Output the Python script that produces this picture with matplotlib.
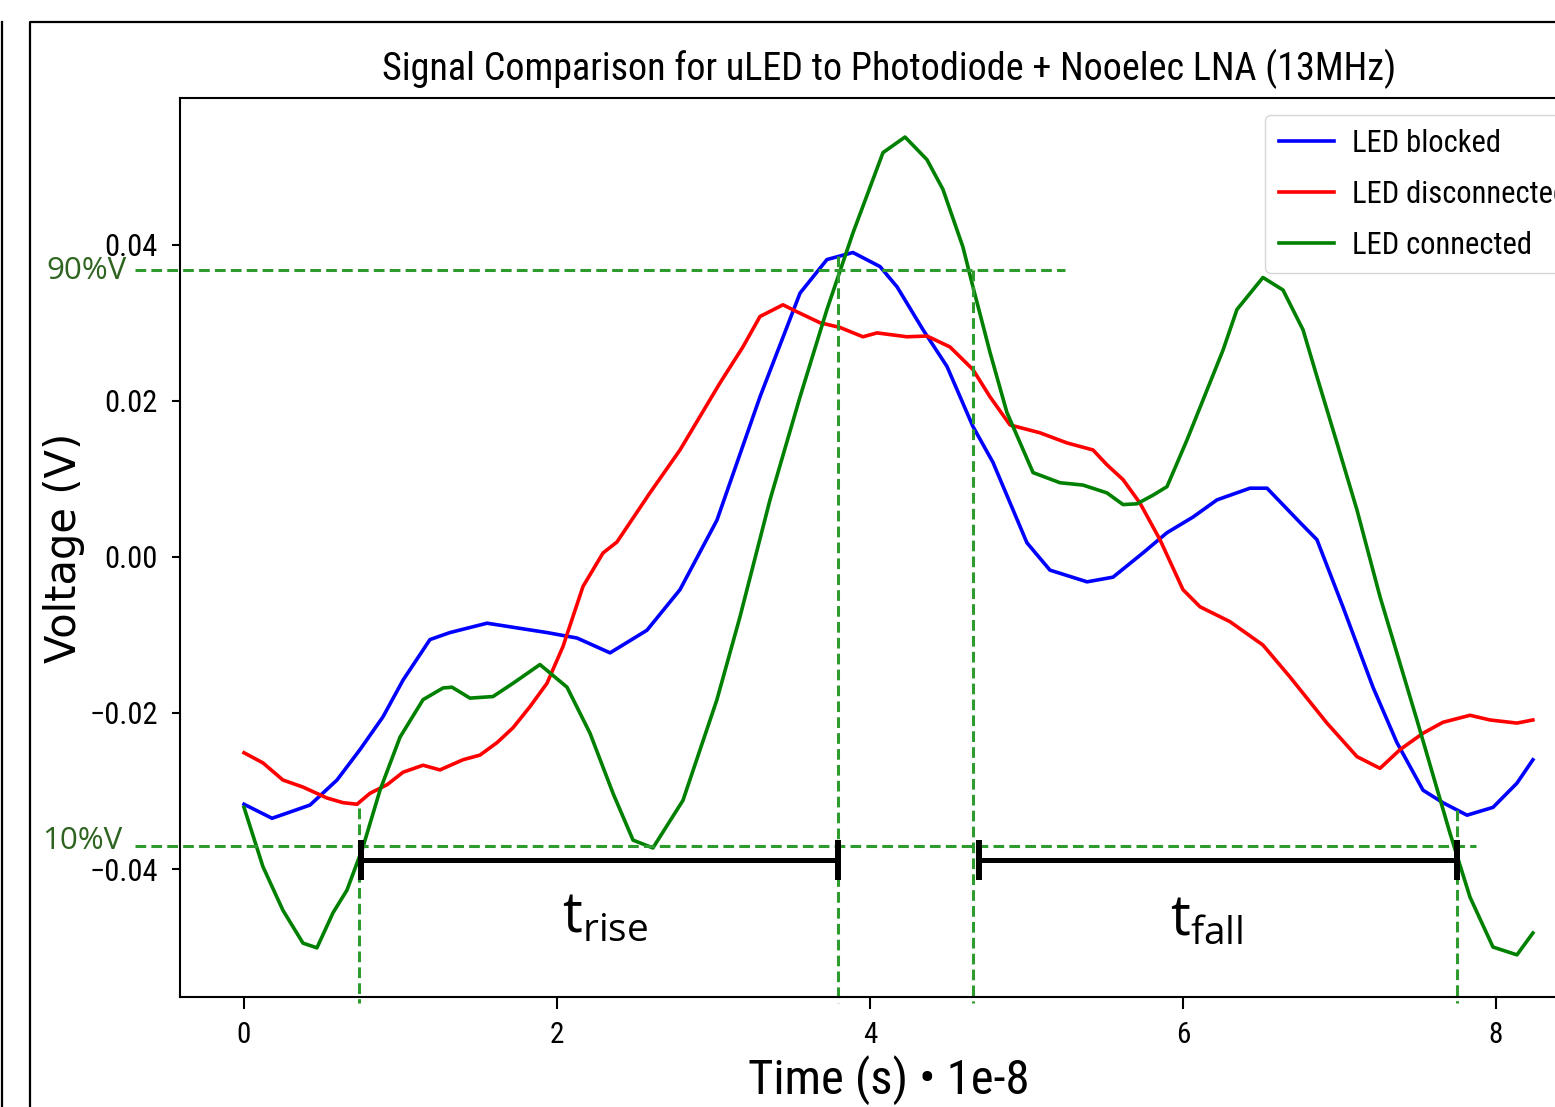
import matplotlib
matplotlib.use("Agg")
import matplotlib.pyplot as plt
from matplotlib import font_manager as fm
from matplotlib.font_manager import FontProperties
from matplotlib.lines import Line2D
from matplotlib.transforms import blended_transform_factory

# ---------------- data (time in units of 1e-8 s, voltage in V) ----------------
t_blocked = [0.000, 0.179, 0.294, 0.422, 0.594, 0.741, 0.888, 1.016, 1.188, 1.316,
             1.553, 1.744, 1.936, 2.128, 2.339, 2.575, 2.786, 3.022, 3.297, 3.553,
             3.725, 3.891, 4.064, 4.173, 4.339, 4.492, 4.658, 4.786, 5.003, 5.150,
             5.387, 5.553, 5.744, 5.898, 6.064, 6.217, 6.428, 6.537, 6.748, 6.856,
             7.022, 7.214, 7.367, 7.534, 7.661, 7.815, 7.981, 8.134, 8.236]
v_blocked = [-0.0317, -0.0335, -0.0327, -0.0318, -0.0286, -0.0247, -0.0205, -0.0158, -0.0106, -0.0097,
             -0.0085, -0.0091, -0.0097, -0.0104, -0.0123, -0.0094, -0.0042, 0.0047, 0.0205, 0.0338,
             0.0381, 0.0390, 0.0372, 0.0346, 0.0291, 0.0244, 0.0167, 0.0121, 0.0018, -0.0017,
             -0.0032, -0.0026, 0.0005, 0.0031, 0.0051, 0.0073, 0.0088, 0.0088, 0.0044, 0.0022,
             -0.0064, -0.0167, -0.0238, -0.0299, -0.0315, -0.0331, -0.0321, -0.0290, -0.0260]

t_disconnected = [0.000, 0.121, 0.249, 0.377, 0.530, 0.633, 0.722, 0.805, 0.914, 1.016,
                  1.144, 1.252, 1.399, 1.508, 1.617, 1.719, 1.827, 1.936, 2.038, 2.166,
                  2.294, 2.383, 2.594, 2.786, 3.042, 3.188, 3.297, 3.444, 3.534, 3.681,
                  3.808, 3.955, 4.045, 4.236, 4.364, 4.511, 4.658, 4.767, 4.895, 5.086,
                  5.259, 5.425, 5.514, 5.617, 5.725, 5.853, 6.000, 6.109, 6.300, 6.511,
                  6.684, 6.920, 7.112, 7.259, 7.387, 7.534, 7.661, 7.834, 7.962, 8.134, 8.236]
v_disconnected = [-0.0251, -0.0264, -0.0286, -0.0295, -0.0309, -0.0315, -0.0317, -0.0303, -0.0292, -0.0276,
                  -0.0267, -0.0273, -0.0260, -0.0254, -0.0238, -0.0219, -0.0192, -0.0162, -0.0115, -0.0038,
                  0.0005, 0.0019, 0.0082, 0.0137, 0.0223, 0.0269, 0.0308, 0.0323, 0.0314, 0.0300,
                  0.0294, 0.0282, 0.0287, 0.0282, 0.0283, 0.0269, 0.0240, 0.0205, 0.0169, 0.0159,
                  0.0146, 0.0137, 0.0118, 0.0099, 0.0069, 0.0022, -0.0042, -0.0064, -0.0083, -0.0113,
                  -0.0154, -0.0213, -0.0256, -0.0271, -0.0247, -0.0226, -0.0212, -0.0203, -0.0209, -0.0213, -0.0209]

t_connected = [0.000, 0.121, 0.249, 0.377, 0.466, 0.569, 0.658, 0.760, 0.869, 0.997,
               1.144, 1.272, 1.329, 1.444, 1.591, 1.719, 1.891, 2.064, 2.211, 2.358,
               2.486, 2.613, 2.805, 3.022, 3.169, 3.361, 3.553, 3.725, 3.891, 4.083,
               4.224, 4.364, 4.466, 4.594, 4.658, 4.767, 4.875, 5.042, 5.214, 5.361,
               5.514, 5.617, 5.706, 5.808, 5.898, 6.026, 6.256, 6.345, 6.511, 6.639,
               6.767, 6.856, 6.984, 7.112, 7.259, 7.495, 7.706, 7.834, 7.981, 8.134, 8.236]
v_connected = [-0.0321, -0.0397, -0.0453, -0.0495, -0.0501, -0.0456, -0.0427, -0.0372, -0.0299, -0.0231,
               -0.0183, -0.0168, -0.0167, -0.0181, -0.0179, -0.0162, -0.0138, -0.0167, -0.0226, -0.0303,
               -0.0363, -0.0373, -0.0312, -0.0183, -0.0077, 0.0073, 0.0205, 0.0317, 0.0415, 0.0518,
               0.0538, 0.0509, 0.0471, 0.0397, 0.0346, 0.0262, 0.0185, 0.0108, 0.0095, 0.0092,
               0.0082, 0.0067, 0.0068, 0.0079, 0.0090, 0.0150, 0.0265, 0.0317, 0.0358, 0.0342,
               0.0291, 0.0231, 0.0146, 0.0060, -0.0051, -0.0209, -0.0354, -0.0436, -0.0500, -0.0510, -0.0482]

series_labels = ["LED blocked", "LED disconnected", "LED connected"]
x_ticks = [0, 2, 4, 6, 8]
y_ticks = [-0.04, -0.02, 0.00, 0.02, 0.04]
title_text = "Signal Comparison for uLED to Photodiode + Nooelec LNA (13MHz)"

# annotation values (same units as the data)
level_90 = 0.0368
level_10 = -0.0371
t_rise_start, t_rise_end = 0.748, 3.796
t_fall_start, t_fall_end = 4.696, 7.751
vline_t = [0.735, 3.796, 4.658, 7.751]
vline_top = [-0.0322, 0.0385, 0.0368, -0.0324]

# ---------------- fonts: look for a narrow face ----------------
preferred = ["liberationsansnarrow-regular", "robotocondensed-regular", "notosans-condensed.",
             "notosans-condensed-regular", "dejavusanscondensed.ttf", "notosans-semicondensed."]
narrow_path = None
files = [f.fname for f in fm.fontManager.ttflist]
for key in preferred:
    for fn in files:
        if key in fn.lower().replace("_", "-").split("/")[-1]:
            narrow_path = fn
            break
    if narrow_path:
        break


def nprop(size):
    if narrow_path:
        return FontProperties(fname=narrow_path, size=size)
    return FontProperties(family="DejaVu Sans", size=size)


names = {f.name for f in fm.fontManager.ttflist}
office = "Open Sans" if "Open Sans" in names else "DejaVu Sans"

W, H = 1555, 1107
fig = plt.figure(figsize=(W / 100, H / 100), dpi=100)
fig.patch.set_facecolor("white")
renderer = fig.canvas.get_renderer()

# scale factor so the title keeps the reference width (1017 px) if the face is too wide
probe = fig.text(0, 0, title_text, fontproperties=nprop(27.5))
wpx = probe.get_window_extent(renderer).width
probe.remove()
k = min(1.0, 1017.0 / wpx)

ax = fig.add_axes([180 / W, (H - 997) / H, (1598 - 180) / W, (997 - 98) / H])
ax.plot(t_blocked, v_blocked, color="blue", lw=2.6, label=series_labels[0])
ax.plot(t_disconnected, v_disconnected, color="red", lw=2.6, label=series_labels[1])
ax.plot(t_connected, v_connected, color="green", lw=2.6, label=series_labels[2])

ax.set_xlim(-0.409, 8.652)
ax.set_ylim(-0.0564, 0.0588)
ax.set_xticks(x_ticks)
ax.set_yticks(y_ticks)
for s in ax.spines.values():
    s.set_linewidth(1.5)
ax.tick_params(axis="x", length=8.5, width=1.5, pad=9)
ax.tick_params(axis="y", length=6, width=1.5, pad=10)
for lab in ax.get_xticklabels():
    lab.set_fontproperties(nprop(21 * k))
for lab in ax.get_yticklabels():
    lab.set_fontproperties(nprop(22 * k))

ax.set_title(title_text, fontproperties=nprop(27.5 * k), pad=13)
ax.set_xlabel("Time (s) \u2022 1e-8", fontproperties=nprop(35 * k), labelpad=4)
ax.set_ylabel("Voltage (V)", family="DejaVu Sans", fontsize=30, labelpad=3)

leg = ax.legend(loc="upper left", bbox_to_anchor=(1265 / W, 1 - 115 / H),
                bbox_transform=fig.transFigure, prop=nprop(22 * k),
                handlelength=1.8, handletextpad=0.6, borderpad=0.45, borderaxespad=0,
                labelspacing=0.72)

# ---------------- annotations ----------------
dash_col = "#2e9b2e"
dash = (0, (3.5, 1.7))
ax.plot([-0.696, 5.246], [level_90, level_90], color=dash_col, lw=2.2, ls=dash, clip_on=False)
ax.plot([-0.696, 7.872], [level_10, level_10], color=dash_col, lw=2.2, ls=dash, clip_on=False)
for tv, top in zip(vline_t, vline_top):
    ax.plot([tv, tv], [top, -0.0572], color=dash_col, lw=2.2, ls=dash, clip_on=False)

bar_y = -0.03885
cap_lo, cap_hi = -0.04141, -0.03628
for a, b in [(t_rise_start, t_rise_end), (t_fall_start, t_fall_end)]:
    ax.plot([a, b], [bar_y, bar_y], color="black", lw=3.6, solid_capstyle="butt", clip_on=False)
    for e in (a, b):
        ax.plot([e, e], [cap_lo, cap_hi], color="black", lw=4.3, solid_capstyle="butt", clip_on=False)

ax.text(2.31, -0.0462, r"$\mathregular{t_{rise}}$", ha="center", va="center",
        fontsize=40, family=office, color="black")
ax.text(6.15, -0.0466, r"$\mathregular{t_{fall}}$", ha="center", va="center",
        fontsize=40, family=office, color="black")

tr = blended_transform_factory(fig.transFigure, ax.transData)
ax.text(46 / W, level_90 - 0.0002, "90%V", transform=tr, ha="left", va="center",
        fontsize=22.5, family=office, color="#2e6420", clip_on=False)
ax.text(42 / W, level_10 + 0.0007, "10%V", transform=tr, ha="left", va="center",
        fontsize=22.5, family=office, color="#2e6420", clip_on=False)

# ---------------- screenshot frame ----------------
fig.add_artist(Line2D([30 / W, 30 / W, 1.0], [0.0, 1 - 22 / H, 1 - 22 / H],
                      transform=fig.transFigure, color="black", lw=1.6))
fig.add_artist(Line2D([2 / W, 2 / W], [0.0, 1 - 22 / H],
                      transform=fig.transFigure, color="black", lw=1.6))

fig.savefig("out.png", dpi=100)
